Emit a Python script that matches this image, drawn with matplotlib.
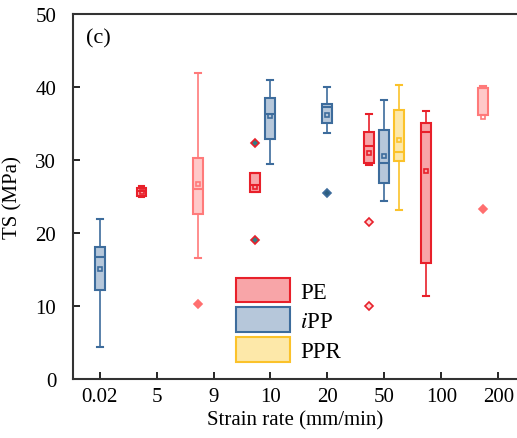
import numpy as np
import matplotlib.pyplot as plt
from matplotlib.patches import Patch

plt.rcParams['font.family'] = ['Liberation Serif', 'DejaVu Serif']
plt.rcParams['mathtext.fontset'] = 'stix'

categories = ['0.02', '5', '9', '10', '20', '50', '100', '200']

# PE
pe_cat = ['5', '9', '10', '50', '100', '200']
pe_q1 = [25.0, 22.6, 25.6, 29.6, 15.9, 36.2]
pe_q3 = [26.1, 30.3, 28.2, 33.8, 35.1, 39.9]
pe_med = [25.8, 26.0, 26.6, 31.9, 33.8, 39.8]
pe_mean = [25.6, 26.7, 26.3, 31.0, 28.5, 35.9]
pe_lo = [24.9, 16.6, 25.6, 29.3, 11.4, 36.2]
pe_hi = [26.4, 41.9, 28.2, 36.3, 36.7, 40.1]
pe_fliers = [[], [10.3], [32.3, 19.0], [21.5, 10.0], [], [23.3]]
pe_light = [False, True, False, False, False, True]

# iPP
ipp_cat = ['0.02', '10', '20', '50']
ipp_q1 = [12.2, 32.9, 35.1, 26.8]
ipp_q3 = [18.1, 38.5, 37.7, 34.1]
ipp_med = [16.7, 36.3, 37.3, 29.6]
ipp_mean = [15.1, 36.0, 36.1, 30.5]
ipp_lo = [4.4, 29.5, 33.7, 24.4]
ipp_hi = [21.9, 41.0, 40.0, 38.2]
ipp_fliers = [[], [], [25.5], []]

# PPR
ppr_cat = ['50']
ppr_q1 = [29.9]
ppr_q3 = [36.8]
ppr_med = [31.1]
ppr_mean = [32.7]
ppr_lo = [23.2]
ppr_hi = [40.3]
ppr_fliers = [[]]

fig = plt.figure(figsize=(5.17, 4.39), dpi=100)
ax = fig.add_axes([0.141, 0.1344, 0.859, 0.8316])

W = 0.175
OFF = 0.265


def draw(cat, q1, q3, med, mean, lo, hi, fl, off, face, edge, fface, fedge):
    for c, a, b, m, mu, l, h, f in zip(cat, q1, q3, med, mean, lo, hi, fl):
        st = dict(q1=a, q3=b, med=m, mean=mu, whislo=l, whishi=h, fliers=f)
        pos = categories.index(c) + 1 + off
        ax.bxp([st], positions=[pos], widths=W, capwidths=W * 0.6,
               patch_artist=True, showmeans=True,
               boxprops=dict(facecolor=face, edgecolor=edge, linewidth=1.5),
               medianprops=dict(color=edge, linewidth=1.5),
               whiskerprops=dict(color=edge, linewidth=1.2),
               capprops=dict(color=edge, linewidth=1.5),
               meanprops=dict(marker='s', markerfacecolor='none', markeredgecolor=edge,
                              markersize=3.5, markeredgewidth=1.2),
               flierprops=dict(marker='D', markerfacecolor=fface, markeredgecolor=fedge,
                               markersize=4.3, markeredgewidth=1.2))


for i in range(len(pe_cat)):
    if pe_light[i]:
        sty = ('#ffc9c9', '#ff7a7a', '#ff6f6f', '#ff6f6f')
    elif pe_cat[i] == '10':
        sty = ('#f8a5a8', '#e8202a', '#2f7f86', '#e8202a')
    else:
        sty = ('#f8a5a8', '#e8202a', '#ffd6d6', '#e8202a')
    draw(pe_cat[i:i+1], pe_q1[i:i+1], pe_q3[i:i+1], pe_med[i:i+1], pe_mean[i:i+1],
         pe_lo[i:i+1], pe_hi[i:i+1], pe_fliers[i:i+1], -OFF, *sty)

draw(ipp_cat, ipp_q1, ipp_q3, ipp_med, ipp_mean, ipp_lo, ipp_hi, ipp_fliers, 0,
     '#b6c7da', '#3d6c9c', '#2c5f80', '#3d6c9c')
draw(ppr_cat, ppr_q1, ppr_q3, ppr_med, ppr_mean, ppr_lo, ppr_hi, ppr_fliers, OFF,
     '#fde8a9', '#fbc22a', '#fde8a9', '#fbc22a')

ax.set_xlim(0.53, 8.33)
ax.set_ylim(0, 50)
ax.set_xticks(range(1, len(categories) + 1))
ax.set_xticklabels(categories)
ax.set_yticks(range(0, 51, 10))
ax.tick_params(direction='in', length=5, width=1.2, labelsize=15)
ax.tick_params(axis='x', pad=6)
ax.tick_params(axis='y', pad=12)
for s in ['left', 'bottom', 'top']:
    ax.spines[s].set_linewidth(1.5)
    ax.spines[s].set_color('#333333')
ax.spines['right'].set_visible(False)
ax.set_xlabel('Strain rate (mm/min)', fontsize=15, labelpad=3)
ax.set_ylabel('TS (MPa)', fontsize=15, labelpad=9)
ax.text(0.03, 0.935, '(c)', transform=ax.transAxes, fontsize=16, va='center')

handles = [Patch(facecolor='#f8a5a8', edgecolor='#e8202a', linewidth=1.5),
           Patch(facecolor='#b6c7da', edgecolor='#3d6c9c', linewidth=1.5),
           Patch(facecolor='#fde8a9', edgecolor='#fbc22a', linewidth=1.5)]
ax.legend(handles, ['PE', r'$\mathit{i}$PP', 'PPR'], loc='upper left',
          bbox_to_anchor=(0.367, 0.278), frameon=False, fontsize=16.5,
          handlelength=2.35, handleheight=1.3, handletextpad=0.45,
          labelspacing=0.2, borderpad=0, borderaxespad=0)

fig.savefig('out.png', dpi=100)
